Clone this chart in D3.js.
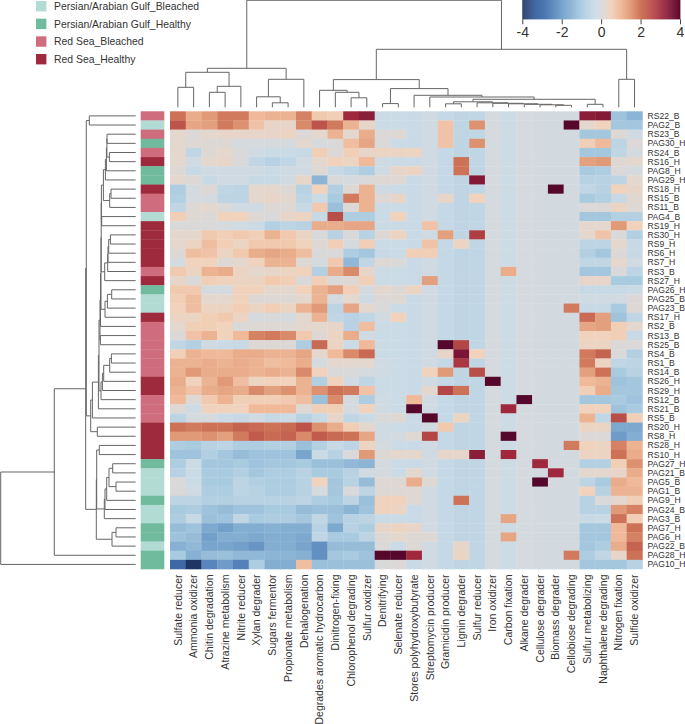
<!DOCTYPE html>
<html><head><meta charset="utf-8">
<script src="https://cdn.jsdelivr.net/npm/d3@7"></script>
<style>html,body{margin:0;padding:0;background:#fff}svg{display:block}text{font-family:"Liberation Sans",Arial,sans-serif;fill:#333}</style>
</head><body><svg id="c" width="685" height="724"></svg>
<script>
const colNames=["Sulfate reducer","Ammonia oxidizer","Chitin degradation","Atrazine metabolism","Nitrite reducer","Xylan degrader","Sugars fermentor","Propionate metabolism","Dehalogenation","Degrades aromatic hydrocarbon","Dinitrogen-fixing","Chlorophenol degrading","Sulfur oxidizer","Denitrifying","Selenate reducer","Stores polyhydroxybutyrate","Streptomycin producer","Gramicidin producer","Lignin degrader","Sulfur reducer","Iron oxidizer","Carbon fixation","Alkane degrader","Cellulose degrader","Biomass degrader","Cellobiose degrading","Sulfur metabolizing","Naphthalene degrading","Nitrogen fixation","Sulfide oxidizer"];
const rowNames=["RS22_B","PAG2_B","RS23_B","PAG30_H","RS24_B","RS16_H","PAG8_H","PAG29_H","RS18_H","RS15_B","RS11_B","PAG4_B","RS19_H","RS30_H","RS9_H","RS6_H","RS7_H","RS3_B","RS27_H","PAG26_H","PAG25_B","PAG23_B","RS17_H","RS2_B","RS13_B","RS25_B","RS4_B","RS1_B","RS14_B","RS26_H","RS29_H","RS12_B","RS21_B","RS5_B","RS20_H","RS8_H","RS28_H","RS10_H","PAG27_H","PAG21_B","PAG5_B","PAG1_B","PAG9_H","PAG24_B","PAG3_B","PAG7_H","PAG6_H","PAG22_B","PAG28_H","PAG10_H"];
const groupNames=["Persian/Arabian Gulf_Bleached","Persian/Arabian Gulf_Healthy","Red Sea_Bleached","Red Sea_Healthy"];
const groupColors=["#b2dbd3","#70ba9d","#cf6c7d","#9e2a3d"];
const scaleTicks=[-4,-2,0,2,4];
const scaleStops=[-4,-3.3,-2.5,-2,-1,-0.3,0,0.5,1,1.5,2,2.5,3,3.5,4];
const scaleColors=["#1f3563","#3b64a3","#5d8bbd","#79a5cd","#a9cbe0","#cbdbe6","#d9d9da","#f1d3bd","#efb99a","#e09a78","#cd7257","#b94d47","#a0283d","#7c1535","#55082c"];
const values=[
[2.0,1.2,1.5,1.9,1.9,1.0,1.1,1.1,1.8,.7,.6,3.0,3.3,-.3,-.3,-.35,-.2,-.45,-.55,-.5,-.1,-.25,-.1,-.15,-.15,-.15,3.3,3.4,-1.2,-1.6],
[2.4,1.3,1.4,1.9,1.6,.8,.3,.3,1.7,2.4,1.9,1.1,.3,-.3,-.3,-.35,-.2,.8,-.55,1.6,-.1,-.25,-.1,-.15,-.15,4,.2,.5,-1.1,-1.1],
[.2,.05,.2,.3,.3,.3,.3,.4,.05,.2,1.1,.2,1.2,.05,.1,-.35,-.2,.8,-.55,-.5,-.1,-.25,-.1,-.15,-.15,-.15,-1.1,-1.1,.1,-.2],
[.2,.1,.1,.1,-.1,-.1,-.1,-.1,.2,-.1,0,.9,1.3,0,-.3,-.35,-.2,.8,-.55,1.6,-.1,-.25,-.1,-.15,-.15,-.15,.6,1.0,-.6,.05],
[.2,-.5,.1,.2,0,-.2,-.3,-.3,-.4,.6,.05,.6,.3,.4,.4,.4,-.2,-.45,-.55,-.5,-.1,-.25,-.1,-.15,-.15,-.15,-1.1,-1.1,-.5,-.1],
[.2,-.2,.2,.3,0,-.5,-.7,-.5,-.2,.2,.5,.4,1.0,-.2,-.3,-.35,-.2,-.45,2.0,-.5,-.1,-.25,-.1,-.15,-.15,-.15,1.4,1.5,.1,.2],
[.1,-.4,-.2,-.2,-.2,-.2,-.3,-.2,-.2,.1,-.4,-.6,-.9,-.2,.3,.4,-.2,-.45,2.0,-.5,-.1,-.25,-.1,-.15,-.15,-.15,-1,-.9,.05,-.1],
[.2,.1,-.4,-.2,-.2,-.4,-.4,-.2,.3,-1.6,0,-.1,0,.1,.1,-.35,-.2,-.45,-.55,3.4,-.1,-.25,-.1,-.15,-.15,-.15,-.7,-.7,-.6,.2],
[-.9,-.1,.1,-.5,-.6,.2,.2,.1,-.7,.5,-.8,.1,1.1,-.2,-.3,-.35,-.2,-.45,-.55,-.5,-.1,-.25,-.1,-.15,4,-.15,-.5,-.7,.5,.3],
[-.8,-.1,-.1,-.6,-.6,.2,.3,.2,-.6,-.3,-1,1.9,1.1,.1,.3,-.35,-.2,.3,-.55,.5,-.1,-.25,-.1,-.15,-.15,-.15,-1,-.8,-.4,.15],
[-.5,.1,.2,0,-.2,-.2,.1,.1,-.4,.7,-1.3,.1,1.1,-.3,-.3,-.35,-.2,-.45,-.55,-.5,-.1,-.25,-.1,-.15,-.15,-.15,.05,.05,.4,.1],
[.6,.1,.05,.5,.5,.1,0,.3,.4,-.4,2.5,-.9,-.9,-.3,.5,-.35,-.2,-.45,-.55,-.5,-.1,-.25,-.1,-.15,-.15,-.15,-1.1,-1.1,-.8,-.8],
[0,0,0,-.1,-.2,-.3,-.8,-.6,-.7,1.2,1.2,1.3,1.3,-.3,-.3,-.35,.8,-.45,-.55,-.5,-.1,-.25,-.1,-.15,-.15,-.15,.2,.2,1.5,.5],
[.2,.2,.7,.6,.7,.6,1.1,.7,.4,0,-.7,0,-.7,.1,.4,-.35,-.2,1.4,-.55,2.7,-.1,-.25,-.1,-.15,-.15,-.15,.2,.8,0,-.8],
[.2,.4,.9,.6,.4,.7,.7,.7,.5,.1,.6,-.1,.6,-.3,-.3,-.35,.8,-.45,.4,-.5,-.1,-.25,-.1,-.15,-.15,-.15,-.6,-.6,.2,-.4],
[.1,.9,.8,.4,.7,1.2,1.3,1.2,.9,0,0,-.9,-1.1,-.4,-.3,.6,.6,-.45,-.55,-.5,-.1,-.25,-.1,-.15,-.15,-.15,-.8,-1.1,.05,-.4],
[-.1,.5,.5,.1,.2,.5,1.1,1.1,.1,-.1,.7,-1.5,-.5,.1,0,-.35,-.2,-.45,-.55,-.5,-.1,-.25,-.1,-.15,-.15,-.15,-.5,-.5,.2,-.2],
[.7,.4,1.1,1.2,.4,.2,.3,.4,.5,-.8,1.2,1.7,.3,-.3,-.3,-.35,-.2,-.45,-.55,-.5,-.1,1.2,-.1,-.15,-.15,-.15,-1.1,-1.1,0,-.6],
[.3,0,.6,.5,.4,.4,.7,.6,0,.6,0,.1,.6,-.3,-.3,-.35,1.4,-.45,-.55,-.5,-.1,-.25,-.1,-.15,-.15,-.15,.3,.3,-1,-1],
[.7,.7,-.1,-.1,.5,.5,.2,.2,.5,1.1,1.4,.6,-.1,.2,.1,.4,-.2,-.45,-.55,-.5,-.1,-.25,-.1,-.15,-.15,-.15,-.4,-.4,-.4,-.3],
[.6,.9,.2,.2,.5,.1,.1,.1,.2,1.1,-.1,.2,-.2,.05,.1,-.35,-.2,-.45,-.55,-.5,-.1,-.25,-.1,-.15,-.15,-.15,-.2,-.2,-.2,.05],
[.5,.9,.4,.4,.6,.4,.6,.4,1.1,1.5,-.6,1.3,.2,0,-.3,-.35,-.2,-.45,-.55,-.5,-.1,-.25,-.1,-.15,-.15,1.9,-.4,-.4,-1,.1],
[.4,.4,.6,.7,.4,-.1,0,-.1,.2,1.1,-.5,-.7,-.5,-.2,.5,-.35,-.2,-.45,-.55,-.5,-.1,-.25,-.1,-.15,-.15,-.15,2.1,1.4,-1.2,-.5],
[.2,.6,.6,.5,0,.1,.1,.1,.2,.2,.3,-.7,.9,-.3,-.3,-.35,-.2,-.45,-.55,-.5,-.1,-.25,-.1,-.15,-.15,-.15,1.3,1.4,.6,.2],
[.05,.8,1.1,.5,1.0,1.8,1.9,1.7,.7,.1,.4,1.2,-.2,-.3,-.3,-.35,-.2,-.45,-.55,-.5,-.1,-.25,-.1,-.15,-.15,-.15,.5,.5,.6,-.4],
[-.5,-.8,-.2,-.3,-.4,.1,.1,.05,-.9,2.1,.4,-.3,1.0,-.3,-.3,-.35,-.2,4,2.6,-.5,-.1,-.25,-.1,-.15,-.15,-.15,.4,.4,.05,.05],
[.6,1.1,1.0,1.0,1.2,1.2,1.1,1.1,1.3,.2,1.0,1.7,2.1,-.3,-.3,-.35,-.2,.3,3.5,.5,-.1,-.25,-.1,-.15,-.15,-.15,1.9,2.2,0,-.8],
[1.1,1.1,1.2,1.1,1.2,1.1,.9,1.0,1.2,-.1,.2,.2,.2,-.2,-.3,-.35,-.2,-.45,2.8,-.5,-.1,-.25,-.1,-.15,-.15,-.15,1.9,.4,-.5,-.6],
[1.1,1.5,1.2,1.2,1.2,1.1,1.2,1.1,1.7,.5,0,0,-.1,-.2,-.3,-.35,.5,1.5,-.55,2.5,-.1,-.25,-.1,-.15,-.15,-.15,1.4,2.0,-1,-.7],
[1.2,.5,1.1,1.5,.9,.4,.5,.5,1.1,-.8,.5,-.2,-.5,-.3,-.3,-.35,-.2,-.45,-.55,-.5,4,-.25,-.1,-.15,-.15,-.15,1.0,1.1,-1.2,-1.1],
[1.1,.8,1.2,1.3,1.2,1.7,1.4,1.6,1.1,1.6,2.0,1.9,.8,-.3,-.3,-.35,.2,2.6,2.0,-.5,-.1,-.25,-.1,-.15,-.15,-.15,.6,1.2,-1.1,-1.1],
[1.0,.1,.7,1.1,.6,.6,.6,.7,.9,-1.3,1.7,-.1,-.9,-.2,-.3,1.0,-.2,-.45,-.55,-.5,-.1,-.25,4,-.15,-.15,-.15,-1.1,-1.1,-1,-1.2],
[.1,-.2,.5,.5,.5,1.0,1.0,1.0,.1,.6,.6,-.1,.5,-.2,-.3,4,-.2,-.45,-.55,-.5,-.1,3.0,-.1,-.15,-.15,-.15,.5,.5,-1.2,-1],
[-.6,-.1,-.1,-.3,-.4,-.2,-.4,-.3,-.7,-.4,.3,-.5,-.3,0,.1,-.35,4,-.45,.4,-.5,-.1,-.25,-.1,-.15,-.15,-.15,1.1,-.5,2.5,.6],
[2.0,1.9,2.0,2.0,2.2,2.1,2.0,2.1,2.4,1.6,1.2,.6,.2,-.2,-.3,-.35,-.2,.7,-.55,-.5,-.1,-.25,-.1,-.15,-.15,-.15,.4,.4,-1.9,-1.9],
[1.5,1.5,1.6,1.4,1.9,2.3,2.1,2.2,1.7,2.3,2.1,2.0,1.3,-.2,-.1,.1,2.6,-.45,-.55,-.5,-.1,4,-.1,-.15,-.15,-.15,.05,.05,-2.2,-1.8],
[-.9,-1.0,-.7,-.6,-.9,-.9,-.8,-.8,-1.3,-.8,-.4,-.6,.4,-.1,-.3,-.35,-.2,-.45,-.55,-.5,-.1,-.25,-.1,-.15,-.15,1.9,.5,.4,1.8,1.1],
[-1.2,-1.2,-.8,-1.1,-1.4,-1.2,-1.2,-1.2,-2.0,-.3,-.7,0,1.5,.1,.2,.2,-.2,.3,.3,3.3,-.1,3.0,-.1,-.15,-.15,-.15,.4,.4,2.0,1.2],
[-.9,-.3,-1.1,-1.1,-1.0,-1.2,-1.1,-1.1,-1.0,-1.3,-1.3,-1.5,-1.6,-.1,-.3,-.35,-.2,-.45,-.55,-.5,-.1,-.25,-.1,3.0,-.15,-.15,-.8,-.8,.6,1.6],
[-.7,-.3,-1.0,-1.0,-.8,-1.1,-.9,-.9,-.7,-1.0,-1.0,-.7,-.2,-.1,-.3,.2,-.2,-.45,-.55,-.5,-.1,-.25,-.1,-.15,3.0,-.15,.2,.2,.3,1.2],
[0,-.3,-1.0,-1.0,-.6,-.8,-.9,-.9,-.7,.5,-1.1,-.7,-1.4,.1,.1,1.2,.1,-.45,-.55,-.5,-.1,-.25,-.1,4,-.15,-.15,-.6,-1,1.2,1.0],
[0,-.2,-.9,-.9,-.6,-.7,-.9,-.9,-.7,-.1,-1.1,0,-.6,.1,.1,.1,-.2,-.45,-.55,-.5,-.1,-.25,-.1,-.15,-.15,-.15,.5,-.7,1.1,1.1],
[-.6,-.6,-.8,-.8,-.7,-.7,-.7,-.7,-.6,-.9,-1.0,-.6,-1.3,.5,.5,.1,-.2,-.45,2.0,-.5,-.1,-.25,-.1,-.15,-.15,-.15,-.7,0,.2,.6],
[-1.0,-.9,-1.2,-1.4,-1.2,-1.2,-1.0,-1.0,-1.4,-1.3,-1.3,-1.6,-1.2,.5,.4,-.35,-.2,-.45,-.55,-.5,-.1,-.25,-.1,-.15,-.15,-.15,-.7,-.7,1.5,1.8],
[-.9,-.4,-1.3,-1.2,-.5,-1.0,-.9,-.9,-1.1,-.5,-1.2,-.7,-.6,-.3,-.3,-.35,-.2,-.45,-.55,-.5,-.1,1.3,-.1,-.15,-.15,-.15,-.4,-.3,2.0,.6],
[-1.4,-1.2,-1.9,-2.1,-1.8,-1.8,-1.7,-1.8,-1.8,-.7,-1.9,-.7,-.9,.3,.4,.3,-.2,-.45,-.55,-.5,-.1,-.25,-.1,-.15,-.15,-.15,-1.1,-1.1,1.0,2.0],
[-1.2,-1.4,-2.1,-1.8,-1.8,-1.9,-1.8,-1.8,-1.9,-.5,-1,-1,-.6,.1,.2,.1,.1,-.45,-.55,-.5,-.1,1.3,-.1,-.15,-.15,-.15,-1.1,-1.1,1.0,1.8],
[-1.7,-1.5,-2.0,-2.0,-2.1,-2.3,-1.8,-1.8,-2.0,-2.4,-1.4,-1.4,-1.4,0,-.3,.1,-.2,-.45,.3,-.5,-.1,-.25,-.1,-.15,-.15,-.15,-1.1,-.9,1.2,2.2],
[-1.0,-1.7,-1.4,-1.3,-1.5,-1.5,-1.6,-1.6,-1.7,-2.4,-1.1,-1,-1.2,4,4,3.0,-.2,-.45,.4,-.5,-.1,-.25,-.1,-.15,-.15,1.9,-.9,-.5,.3,2.0],
[-3.2,-4,-2.6,-2.2,-2.7,-.9,-1.8,-1.8,.9,-1.3,-1.3,-1.3,-1.3,0,.05,-.35,-.2,-.45,-.55,-.5,-.1,-.25,-.1,-.15,-.15,-.15,-1.1,-1.1,-1.1,-.7]
];
// dendrograms: [merge height, left, right]; a bare number is a leaf index
const colTree=[107,
 [39,[35,[20,0,1],[21,[15,2,3],4]],[28,[10.5,5,[4.5,6,7]],8]],
 [58,[27.7,[17,9,[15,10,[9.5,11,12]]],[18.7,[3.7,13,14],[12,15,[10.3,16,[8,[5.5,[3.5,17,18],[4.5,19,[4,20,[3.5,21,[3,22,[2.5,23,[2,24,25]]]]]]],[3,26,27]]]]]],[28,28,29]]];
const rowCluster1=[32.3,[30.3,[29.3,[28.8,[28.7,2,3],[26.3,4,5]],6],7],[26,[24.7,8,9],10]];
const rowCluster2=[31,[28,[27.7,[27,[25.3,13,14],15],16],17],18];
const rowCluster3=[30.7,[28.3,[24,19,20],21],22];
const rowCluster4=[34.7,[33.3,[32,[26,[24.3,26,27],28],29],30],31];
const rowMiddle=[35.7,[35.2,[34.7,[34.5,[34.3,rowCluster1,[34,11,12]],rowCluster2],rowCluster3],23],[35.3,24,25]];
const rowUpper=[49.4,[46.4,0,1],[45,[43.3,[37.3,[36.7,rowMiddle,rowCluster4],32],33],[38.4,34,35]]];
const rowLower=[39.4,
 [39,[36.4,36,37],[31.4,[30.7,[29,[26.7,[23,38,39],[19.7,40,41]],42],43],44]],
 [23.7,[19.7,45,46],47]];
const rowTree=[135,[81.4,[50,rowUpper,rowLower],48],49];
</script>
<script>
const svg=d3.select("#c");
const x=d3.scaleBand().domain(d3.range(colNames.length)).range([170,642.4]);
const y=d3.scaleBand().domain(d3.range(rowNames.length)).range([111.3,569]);
const color=d3.scaleLinear().domain(scaleStops).range(scaleColors).clamp(true);
const gOf=n=>(n.startsWith("PAG")?0:2)+(n.endsWith("_H")?1:0);

// heat cells
svg.append("g").selectAll("g").data(values).join("g")
 .attr("transform",(d,i)=>`translate(0,${y(i)})`)
 .selectAll("rect").data(d=>d).join("rect")
 .attr("x",(d,j)=>x(j)).attr("width",x.bandwidth()+.3).attr("height",y.bandwidth()+.3).attr("fill",d=>color(d));

// row annotation
const ax=d3.scaleBand().domain([0]).range([140.7,164.3]);
svg.append("g").selectAll("rect").data(rowNames).join("rect")
 .attr("x",ax(0)).attr("y",(d,i)=>y(i)).attr("width",ax.bandwidth()).attr("height",y.bandwidth()+.3)
 .attr("fill",d=>groupColors[gOf(d)]);

// labels
svg.append("g").selectAll("text").data(rowNames).join("text")
 .attr("x",647.5).attr("y",(d,i)=>y(i)+y.bandwidth()/2).attr("dy","0.35em")
 .attr("font-size",8.6).text(d=>d);
svg.append("g").selectAll("text").data(colNames).join("text")
 .attr("transform",(d,i)=>`translate(${x(i)+x.bandwidth()/2},574.5) rotate(-90)`)
 .attr("dy","0.35em").attr("text-anchor","end").attr("font-size",10.5).text(d=>d);

// dendrograms
const kids=d=>Array.isArray(d)?d.slice(1):null;
function dendro(tree,leafPos,hPos,vertical){
 const root=d3.hierarchy(tree,kids);
 root.eachAfter(n=>{
  n.p=n.children?d3.mean(n.children,c=>c.p):leafPos(n.data);
  n.h=n.children?hPos(n.data[0]):hPos(0);
 });
 const pts=[];
 root.each(n=>{ if(n.children){ const [a,b]=n.children;
  pts.push([[a.p,a.h],[a.p,n.h],[b.p,n.h],[b.p,b.h]]);
 }});
 const line=d3.line().x(d=>vertical?d[0]:d[1]).y(d=>vertical?d[1]:d[0]);
 svg.append("g").selectAll("path").data(pts).join("path").attr("d",line)
  .attr("fill","none").attr("stroke","#666").attr("stroke-width",1);
}
const topH=d3.scaleLinear().domain([0,107]).range([107.3,.3]);
const leftH=d3.scaleLinear().domain([0,135]).range([135.7,.7]);
dendro(colTree,i=>x(i)+x.bandwidth()/2,topH,true);
dendro(rowTree,i=>y(i)+y.bandwidth()/2,leftH,false);

// legend
const ly=d3.scalePoint().domain(groupNames).range([6.2,59.2]);
const lg=svg.append("g").selectAll("g").data(groupNames).join("g").attr("transform",d=>`translate(0,${ly(d)})`);
lg.append("rect").attr("x",36).attr("y",-5.2).attr("width",10.4).attr("height",10.4).attr("fill",(d,i)=>groupColors[i]);
lg.append("text").attr("x",54).attr("dy","0.36em").attr("font-size",10.4).text(d=>d);

// colour bar
const cb=d3.scaleLinear().domain([-4,4]).range([522.3,680]);
const steps=d3.range(-4,4,0.05);
svg.append("g").selectAll("rect").data(steps).join("rect")
 .attr("x",d=>cb(d)).attr("y",0).attr("width",cb(0.05)-cb(0)+.4).attr("height",19.3).attr("fill",d=>color(d));
const axis=svg.append("g").attr("transform","translate(0,19.3)").call(d3.axisBottom(cb).tickValues(scaleTicks).tickSize(5).tickSizeOuter(0).tickFormat(d=>String(d)));
axis.select(".domain").remove();
axis.selectAll("line").attr("stroke","#444");
axis.selectAll("text").attr("font-size",14).attr("font-family",'"Liberation Sans",Arial,sans-serif').attr("fill","#333").attr("y",8);
</script>
</body></html>
